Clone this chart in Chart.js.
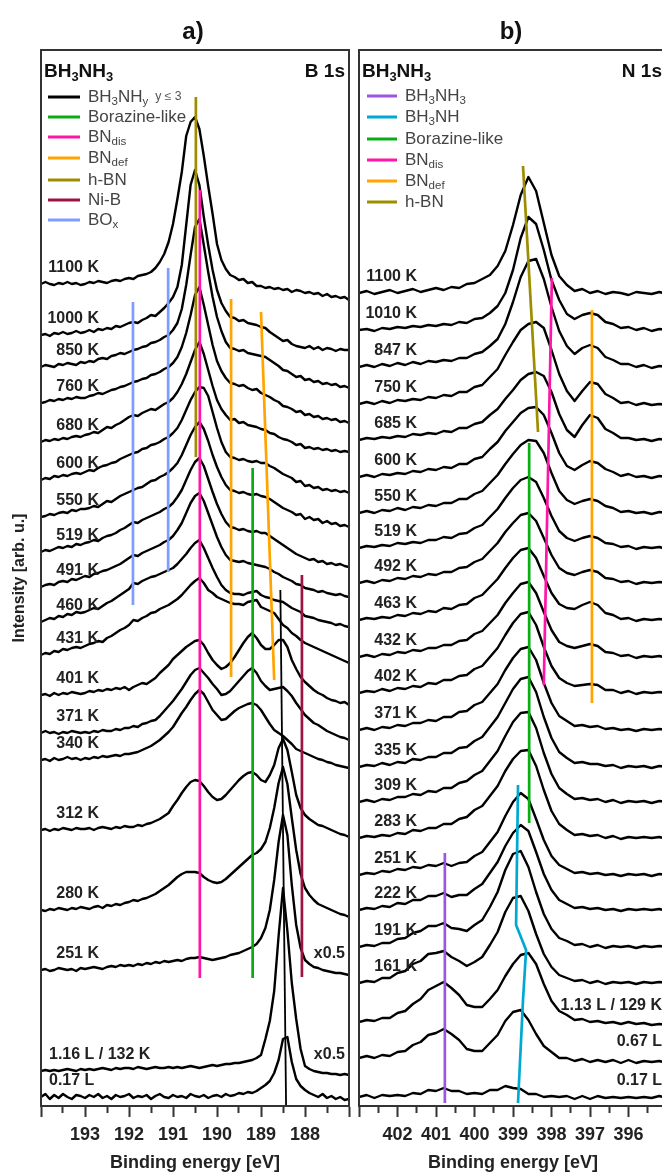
<!DOCTYPE html>
<html><head><meta charset="utf-8">
<script src="https://cdn.jsdelivr.net/npm/chart.js@4.4.1/dist/chart.umd.min.js"></script>
<style>
html,body{margin:0;padding:0;background:#fff;overflow:hidden;width:662px;height:1174px;}
#wrapA{position:absolute;left:0;top:0;width:353px;height:1174px;}
#wrapB{position:absolute;left:353px;top:0;width:322px;height:1174px;}
</style></head><body>
<div id="wrapA"><canvas id="cA" width="353" height="1174"></canvas></div>
<div id="wrapB"><canvas id="cB" width="322" height="1174"></canvas></div>
<script>
// ---------- B 1s (panel a) ----------
const energyB1s = [194.0,193.9,193.8,193.7,193.6,193.5,193.4,193.3,193.2,193.1,
  193.0,192.9,192.8,192.7,192.6,192.5,192.4,192.3,192.2,192.1,
  192.0,191.9,191.8,191.7,191.6,191.5,191.4,191.3,191.2,191.1,
  191.0,190.9,190.8,190.7,190.6,190.5,190.4,190.3,190.2,190.1,
  190.0,189.9,189.8,189.7,189.6,189.5,189.4,189.3,189.2,189.1,
  189.0,188.9,188.8,188.7,188.6,188.5,188.4,188.3,188.2,188.1,
  188.0,187.9,187.8,187.7,187.6,187.5,187.4,187.3,187.2,187.1,187.0];
const labelsB1s = ['1100 K','1000 K','850 K','760 K','680 K','600 K','550 K','519 K','491 K','460 K','431 K','401 K','371 K','340 K','312 K','280 K','251 K','1.16 L / 132 K','0.17 L'];
const offsetsB1s = [822,771,739,703,664,626,589,554,519,484,451,411,373,346,276,196,136,35,9];
const b1s_1100K = [0,2,0,-1,1,0,2,0,1,-1, 0,2,1,3,2,1,3,4,3,5, 6,5,8,9,10,12,16,22,30,42, 60,85,112,148,162,167,155,128,98,70, 40,24,15,9,7,4,5,1,2,-2, -2,-4,-3,-5,-4,-6,-5,-8,-6,-7, -9,-8,-10,-9,-12,-10,-13,-12,-14,-13,-16];
const b1s_1000K = [0,1,-1,2,1,3,1,2,4,2, 3,5,3,6,5,7,6,9,8,10, 12,13,12,15,17,20,19,23,27,32, 38,48,70,110,150,165,150,118,90,65, 45,32,24,18,17,14,15,12,11,10, 8,7,3,0,-3,-6,-5,-9,-11,-12, -13,-11,-14,-12,-15,-13,-14,-16,-14,-15,-15];
const b1s_850K  = [0,2,1,0,3,2,4,3,2,5, 4,6,5,8,9,8,11,12,14,13, 15,17,18,20,21,24,25,27,30,32, 37,44,58,82,112,140,148,122,95,70, 50,36,25,19,18,16,17,14,13,12, 11,10,7,4,1,-3,-4,-7,-10,-9, -13,-12,-15,-14,-17,-16,-18,-17,-20,-19,-21];
const b1s_760K  = [0,1,3,2,4,3,5,4,6,5, 5,7,8,10,9,11,13,14,16,17, 19,21,22,24,25,28,29,31,34,36, 40,46,56,70,88,108,116,98,78,58, 42,32,25,20,19,17,18,15,13,14, 10,8,6,3,1,-3,-4,-6,-9,-8, -12,-11,-14,-13,-16,-15,-17,-16,-19,-18,-20];
const b1s_680K  = [0,2,1,3,2,4,3,5,6,5, 7,8,10,9,12,15,14,17,19,22, 25,27,26,29,31,33,32,35,38,40, 44,50,58,68,80,92,100,88,72,56, 42,33,27,22,23,19,20,17,16,15, 13,12,9,8,5,3,2,0,-3,-2, -6,-5,-7,-6,-8,-7,-9,-8,-10,-9,-10];
const b1s_600K  = [0,2,1,4,3,5,4,6,7,6, 8,10,9,12,14,15,17,18,21,23, 25,27,28,31,32,35,36,38,41,43, 47,52,60,70,80,88,93,92,84,68, 52,38,28,23,22,20,21,19,18,19, 17,17,14,12,9,6,4,2,-2,-1, -6,-5,-8,-7,-10,-9,-11,-10,-12,-11,-13];
const b1s_550K  = [0,1,3,2,4,5,4,7,6,8, 8,9,11,10,13,16,15,18,21,23, 25,27,29,30,33,36,37,40,42,45, 49,54,62,72,82,90,95,88,76,62, 50,40,32,27,26,24,25,23,22,23, 21,20,18,15,12,9,7,5,2,3, -2,0,-3,-2,-6,-4,-7,-6,-9,-8,-10];
const b1s_519K  = [0,2,1,3,5,4,6,5,8,7, 9,10,12,11,14,16,17,19,22,24, 27,30,29,32,34,36,38,40,43,45, 49,55,62,72,82,90,94,86,73,60, 48,38,30,25,24,22,23,21,20,21, 19,19,16,13,10,7,4,1,-2,-4, -6,-8,-7,-10,-9,-12,-11,-13,-12,-14,-15];
const b1s_491K  = [0,2,3,2,5,6,5,8,7,9, 11,10,13,14,16,17,19,21,23,26, 29,32,31,34,36,38,40,42,45,47, 51,57,64,74,84,91,94,86,74,62, 50,40,32,27,26,25,26,24,23,22, 21,20,18,15,13,10,8,6,3,2, -1,-2,-3,-5,-4,-6,-7,-8,-7,-9,-10];
const b1s_460K  = [0,2,4,3,6,5,8,7,10,9, 10,12,14,13,16,19,21,24,27,30, 33,39,38,41,43,45,46,48,50,52, 54,58,63,68,74,79,82,74,64,54, 45,37,32,29,28,28,27,29,30,31, 27,25,24,22,21,20,17,14,12,10, 6,5,4,2,1,0,-1,-3,-2,-4,-5];
const b1s_431K  = [0,2,1,4,3,6,5,7,8,7, 9,11,12,14,13,17,19,22,25,27, 30,35,34,37,39,42,43,46,48,50, 53,56,60,65,70,74,77,72,65,62, 58,56,54,52,51,51,50,53,54,55, 48,46,44,42,36,30,27,22,19,15, 12,10,8,6,4,2,0,-2,-4,-6,-8];
const b1s_401K  = [0,1,-1,2,0,2,1,3,2,1, 2,4,3,5,4,6,5,7,6,8, 5,8,10,12,11,14,17,22,26,30, 36,40,44,48,51,54,55,50,42,35, 30,26,28,32,38,45,52,58,62,57, 50,46,46,50,55,55,48,35,26,18, 13,9,5,2,0,-3,-5,-6,-8,-7,-10];
const b1s_371K  = [0,2,0,1,-1,1,0,2,1,0, 1,0,2,1,3,2,2,4,3,5, 5,7,6,9,10,12,13,17,22,27, 32,38,44,51,58,63,65,60,55,49, 44,38,39,42,47,52,57,62,65,60, 52,47,43,44,45,46,42,37,30,24, 18,14,10,8,5,2,0,-2,-4,-5,-7];
const b1s_340K  = [0,1,-1,2,0,1,3,1,2,0, 2,1,3,2,4,3,4,5,4,6, 6,7,8,10,12,14,17,20,24,28, 33,40,47,53,60,66,70,66,58,50, 45,40,41,45,49,52,54,56,57,55, 50,43,36,30,27,24,20,16,11,9, 7,5,3,1,0,-2,-3,-5,-6,-7,-8];
const b1s_312K  = [0,1,-1,1,0,2,1,0,2,1, 1,2,0,2,3,2,1,3,2,4, 3,3,5,4,6,7,9,11,14,17, 24,30,37,43,48,50,49,44,38,33, 30,31,35,40,45,50,54,57,58,55, 50,48,55,65,82,91,80,58,35,22, 15,11,8,5,4,2,0,-2,-4,-5,-7];
const b1s_280K  = [0,-1,1,0,2,1,0,2,1,3, 2,1,3,4,2,5,4,6,5,7, 8,10,9,11,12,14,16,19,22,25, 29,33,36,38,38,38,37,33,30,28, 27,28,31,35,39,43,47,51,55,57, 61,68,82,102,127,143,126,92,60,36, 22,15,10,6,4,2,0,-2,-4,-5,-7];
const b1s_251K  = [0,1,-1,0,2,1,0,1,-1,2, 1,2,3,2,1,3,4,3,5,4, 5,4,6,5,7,6,8,7,9,8, 9,10,9,11,12,12,13,12,11,10, 11,12,13,15,16,17,19,21,23,26, 32,42,60,90,128,155,135,85,45,22, 10,6,3,2,0,-1,-2,-3,-3,-4,-5];
const b1s_116L  = [0,1,0,1,0,1,2,1,0,2, 1,2,1,2,3,2,1,3,2,3, 3,2,4,3,2,3,4,3,3,4, 3,4,3,4,5,4,3,4,5,6, 5,6,7,7,8,8,9,10,11,13, 16,32,50,80,135,183,140,88,52,22, 5,2,0,-1,-2,-2,-3,-3,-4,-3,-4];
const b1s_017L  = [0,3,-2,2,-1,3,0,-2,2,1, -1,2,0,3,-1,1,-2,2,0,1, 3,-1,1,0,2,-2,1,3,0,-1, 2,0,1,-1,3,1,0,2,-1,1, 2,0,3,1,2,4,3,5,4,6, 9,12,16,24,37,58,60,35,18,11, 7,4,2,0,3,-1,1,-2,0,-3,-2];
const spectraB1s = [b1s_1100K,b1s_1000K,b1s_850K,b1s_760K,b1s_680K,b1s_600K,b1s_550K,b1s_519K,b1s_491K,b1s_460K,b1s_431K,b1s_401K,b1s_371K,b1s_340K,b1s_312K,b1s_280K,b1s_251K,b1s_116L,b1s_017L];
const scaledB1s = ['251 K','1.16 L / 132 K'];
const ticksB1s = [193,192,191,190,189,188];

// component guides: [energy, intensity] pairs
const guideHBN_B   = [[190.48,1009],[190.48,649]];
const guideDis_B   = [[190.39,916],[190.39,128]];
const guideDef1_B  = [[189.68,807],[189.68,429]];
const guideDef2_B  = [[189.0,794],[188.7,426]];
const guideBor_B   = [[189.19,638],[189.19,128]];
const guideNiB_B   = [[188.07,531],[188.07,129]];
const guideBOx1_B  = [[191.91,804],[191.91,501]];
const guideBOx2_B  = [[191.11,838],[191.11,534]];
const guideBHN_B   = [[188.56,516],[188.43,0]];

// ---------- N 1s (panel b) ----------
const energyN1s = [403.0,402.8,402.6,402.4,402.2,402.0,401.8,401.6,401.4,401.2,401.0,400.8,400.6,400.4,400.2,400.0,399.8,399.6,399.4,399.2,399.0,398.8,398.6,398.4,398.2,398.0,397.8,397.6,397.4,397.2,397.0,396.8,396.6,396.4,396.2,396.0,395.8,395.6,395.4,395.2,395.0];
const labelsN1s = ['1100 K','1010 K','847 K','750 K','685 K','600 K','550 K','519 K','492 K','463 K','432 K','402 K','371 K','335 K','309 K','283 K','251 K','222 K','191 K','161 K','1.13 L / 129 K','0.67 L','0.17 L'];
const offsetsN1s = [813,776,739,702,666,629,593,558,523,486,449,413,376,339,304,268,231,196,159,123,84,48,9];
const n1s_1100K = [0,2,-1,1,3,0,2,4,1,3,5,3,6,5,9,10,14,18,27,42,68,98,116,102,70,38,17,8,2,4,0,2,-1,1,0,-2,1,0,-1,1,-1];
const n1s_1010K = [0,1,-1,2,1,3,2,4,3,5,4,6,5,8,7,11,12,17,24,37,60,92,113,106,80,50,30,16,11,15,17,15,8,6,2,3,0,2,-1,1,0];
const n1s_847K  = [0,2,0,3,1,4,2,5,3,6,5,7,6,9,9,13,15,21,28,43,65,90,106,108,88,60,36,21,13,19,22,19,10,7,3,3,0,2,-1,1,0];
const n1s_750K  = [0,2,0,3,1,4,3,5,4,7,6,9,8,12,12,17,19,27,35,49,62,74,80,82,76,54,30,13,3,13,22,20,10,6,1,2,-1,1,-1,0,-1];
const n1s_685K  = [0,2,1,3,2,4,3,6,5,7,6,9,8,12,12,16,18,25,31,41,50,60,66,68,64,48,26,10,3,15,25,22,11,7,2,2,0,1,-1,1,0];
const n1s_600K  = [0,2,0,3,2,4,3,6,5,8,7,10,9,13,13,18,20,28,35,46,55,64,69,70,62,44,24,11,7,12,16,14,8,5,1,3,0,1,-1,1,0];
const n1s_550K  = [0,2,0,3,2,5,3,6,5,8,7,10,10,14,14,19,22,30,38,49,59,68,73,72,60,40,22,13,9,12,14,12,7,5,1,2,0,1,-1,1,0];
const n1s_519K  = [0,2,1,3,2,5,4,6,5,8,8,11,10,14,15,20,23,31,39,50,60,68,71,66,50,32,17,10,7,10,12,10,5,4,1,2,-1,1,0,1,-1];
const n1s_492K  = [0,2,0,3,2,5,4,7,6,9,8,11,11,15,16,21,24,32,40,51,60,68,70,62,45,28,15,10,8,11,13,11,5,4,1,2,-1,1,0,1,0];
const n1s_463K  = [0,2,1,3,2,5,4,7,6,9,8,12,11,15,16,22,25,33,41,52,62,70,72,62,44,27,16,12,11,15,18,15,7,5,1,2,-1,1,0,1,0];
const n1s_432K  = [0,2,0,3,2,5,4,7,6,9,9,12,12,16,17,23,26,34,42,54,64,73,75,64,45,27,15,11,9,11,13,11,5,4,1,2,-1,1,0,1,-1];
const n1s_402K  = [0,2,1,4,2,5,4,7,6,10,9,13,13,17,18,24,27,36,45,58,70,79,81,68,46,27,15,10,7,8,9,8,3,3,0,2,-1,1,0,1,0];
const n1s_371K  = [0,2,0,3,2,5,4,7,7,10,9,13,13,18,19,25,28,37,46,60,72,81,83,70,47,27,14,9,4,5,3,4,1,2,0,1,-1,1,0,1,0];
const n1s_335K  = [0,2,1,4,2,5,4,8,7,10,10,14,14,19,20,26,30,40,50,64,78,88,90,75,50,29,15,9,4,5,3,3,1,2,-1,1,0,1,-1,1,0];
const n1s_309K  = [0,2,0,3,2,5,5,8,7,11,10,14,14,19,21,27,31,41,51,66,80,89,90,74,49,28,14,8,3,4,2,3,0,2,-1,1,0,1,-1,1,0];
const n1s_283K  = [0,2,1,3,2,5,4,8,7,10,10,14,14,19,21,28,32,42,52,67,79,87,88,72,48,27,14,8,3,4,2,3,0,2,-1,1,0,1,0,1,-1];
const n1s_251K  = [0,2,1,4,3,6,5,8,7,10,9,12,9,12,13,19,23,33,43,59,73,82,76,56,35,19,10,6,2,3,1,2,0,1,-1,1,0,1,-1,1,0];
const n1s_222K  = [0,2,1,4,3,7,6,10,10,14,14,17,13,15,15,21,26,37,48,64,77,85,79,58,36,20,10,6,2,3,1,2,0,1,-1,1,0,1,0,1,-1];
const n1s_191K  = [0,2,1,4,4,8,9,14,16,21,21,24,19,18,16,22,27,40,55,77,93,96,80,55,33,18,9,6,2,3,0,2,-1,1,0,1,-1,1,0,1,0];
const n1s_161K  = [0,2,1,5,5,10,12,19,22,29,30,32,26,22,17,21,26,38,51,71,85,87,72,49,29,16,8,5,2,3,0,2,-1,1,0,1,-1,1,0,1,0];
const n1s_113L  = [0,2,1,4,4,9,11,18,23,32,36,40,34,27,17,15,15,23,32,46,58,67,69,58,38,21,11,7,2,3,0,1,-1,0,-2,0,-2,-1,-3,-2,-3];
const n1s_067L  = [0,2,0,3,2,6,7,13,16,23,25,29,24,18,9,7,7,15,23,37,46,48,38,24,12,6,0,0,-3,-1,-4,-2,-4,-2,-5,-2,-5,-3,-4,-3,-5];
const n1s_017L  = [0,2,-1,2,1,2,1,4,3,7,6,9,6,6,3,4,3,7,7,11,9,8,3,3,0,1,0,1,-2,1,-2,1,-1,0,-1,0,-1,0,-1,1,-1];
const spectraN1s = [n1s_1100K,n1s_1010K,n1s_847K,n1s_750K,n1s_685K,n1s_600K,n1s_550K,n1s_519K,n1s_492K,n1s_463K,n1s_432K,n1s_402K,n1s_371K,n1s_335K,n1s_309K,n1s_283K,n1s_251K,n1s_222K,n1s_191K,n1s_161K,n1s_113L,n1s_067L,n1s_017L];
const ticksN1s = [402,401,400,399,398,397,396];

const guideHBN_N  = [[398.74,940],[398.35,674]];
const guideDis_N  = [[397.99,828],[398.2,421]];
const guideDef_N  = [[396.95,796],[396.95,403]];
const guideBor_N  = [[398.58,663],[398.58,283]];
const guideBHN_N  = [[398.87,321],[398.92,181],[398.66,156],[398.74,106],[398.87,3]];
const guideBH3_N  = [[400.77,253],[400.77,3]];

// ---------- colours ----------
const COL = {
  black:'#000000', borazine:'#0aad14', dis:'#ff16a9', def:'#ffa400',
  hbn:'#9d8d00', nib:'#9b1444', box:'#7f9dff', bh3:'#9c55e3', bhn:'#00a9d2'
};
const FONT = "'Liberation Sans', Arial, Helvetica, sans-serif";

function richWidth(ctx, parts, size, weight) {
  let w = 0;
  for (const [t, kind] of parts) {
    const s = kind === 'sub' ? size * 0.68 : kind === 'small' ? size * 0.72 : size;
    ctx.font = `${weight} ${s}px ${FONT}`;
    w += ctx.measureText(t).width;
  }
  return w;
}
function drawRich(ctx, x, y, parts, size, weight, color, align) {
  let cx = align === 'right' ? x - richWidth(ctx, parts, size, weight) : x;
  ctx.textBaseline = 'middle';
  ctx.textAlign = 'left';
  for (const [t, kind] of parts) {
    const s = kind === 'sub' ? size * 0.68 : kind === 'small' ? size * 0.72 : size;
    ctx.font = `${weight} ${s}px ${FONT}`;
    ctx.fillStyle = kind === 'small' ? '#555' : color;
    const dy = kind === 'sub' ? size * 0.3 : 0;
    ctx.fillText(t, cx, y + dy);
    cx += ctx.measureText(t).width;
  }
}

function guideSet(points, color, width) {
  return {
    data: points.map(p => ({x: p[0], y: p[1]})),
    borderColor: color, borderWidth: width || 2.7, pointRadius: 0,
    tension: 0, order: 0, clip: false
  };
}

function spectrumSets(energy, spectra, offsets) {
  return spectra.map((vals, i) => ({
    data: vals.map((v, k) => ({x: energy[k], y: offsets[i] + v})),
    borderColor: '#000', borderWidth: 2.4, pointRadius: 0, tension: 0,
    borderJoinStyle: 'round', order: 1
  }));
}

function xAxis(min, max, tickLabels) {
  return {
    type: 'linear', min, max, reverse: true,
    afterFit(s) { s.height = 68; },
    afterBuildTicks(s) {
      const t = [];
      for (let v = s.min; v <= s.max + 1e-9; v += 0.5) t.push({value: Math.round(v * 2) / 2});
      s.ticks = t;
    },
    ticks: {
      autoSkip: false, maxRotation: 0, padding: 7, color: '#222',
      font: {family: FONT, size: 18, weight: 'bold'},
      callback: v => tickLabels.includes(v) ? String(v) : ''
    },
    grid: {
      drawOnChartArea: false, drawTicks: true, tickLength: 11, tickWidth: 2, tickColor: '#333',
      tickBorderDash: c => (c.tick && Number.isInteger(c.tick.value)) ? [] : [6, 40]
    },
    border: {display: true, color: '#333', width: 2},
    title: {display: true, text: 'Binding energy [eV]', color: '#222',
      font: {family: FONT, size: 18, weight: 'bold'}, padding: {top: 0, bottom: 0}}
  };
}

function panelPlugin(cfg) {
  return {
    id: 'panel' + cfg.tag,
    afterDatasetsDraw(chart) {
      const {ctx, chartArea: a, scales} = chart;
      ctx.save();
      ctx.strokeStyle = '#333'; ctx.lineWidth = 2;
      ctx.strokeRect(a.left, a.top, a.right - a.left, a.bottom - a.top);
      ctx.fillStyle = '#111';
      ctx.font = `bold 24px ${FONT}`; ctx.textAlign = 'center'; ctx.textBaseline = 'middle';
      ctx.fillText(cfg.tag + ')', (a.left + a.right) / 2 - 2, 32);
      drawRich(ctx, a.left + 3, a.top + 22, [['BH',''],['3','sub'],['NH',''],['3','sub']], 19, 'bold', '#111', 'left');
      drawRich(ctx, cfg.coreX(a), a.top + 22, [[cfg.core,'']], 19, 'bold', '#111', 'right');
      cfg.legend.forEach((it, i) => {
        const y = cfg.legendY[i];
        ctx.strokeStyle = it.color; ctx.lineWidth = 3;
        ctx.beginPath(); ctx.moveTo(a.left + cfg.legX0, y); ctx.lineTo(a.left + cfg.legX1, y); ctx.stroke();
        drawRich(ctx, a.left + cfg.legX1 + 8, y, it.parts, 17, 'normal', '#444', 'left');
      });
      ctx.fillStyle = '#222';
      cfg.labels.forEach((lab, i) => {
        const y = scales.y.getPixelForValue(cfg.offsets[i]) - 16;
        const isDose = lab.includes('L');
        ctx.font = `bold 16px ${FONT}`; ctx.textBaseline = 'middle';
        if (isDose) {
          ctx.textAlign = cfg.doseAlign;
          ctx.fillText(lab, cfg.doseAlign === 'left' ? a.left + 8 : a.right - 5, y);
        } else {
          ctx.textAlign = 'right';
          ctx.fillText(lab, a.left + cfg.labelRight, y);
        }
        if (cfg.scaled && cfg.scaled.includes(lab)) {
          ctx.textAlign = 'right';
          ctx.fillText('x0.5', a.right - 4, y);
        }
      });
      if (cfg.yTitle) {
        ctx.save();
        ctx.translate(20, 578); ctx.rotate(-Math.PI / 2);
        ctx.font = `bold 16px ${FONT}`; ctx.textAlign = 'center'; ctx.textBaseline = 'middle';
        ctx.fillStyle = '#222';
        ctx.fillText('Intensity [arb. u.]', 0, 0);
        ctx.restore();
      }
      ctx.restore();
    }
  };
}

function makeChart(id, xmin, xmax, tickLabels, datasets, padding, plugin) {
  return new Chart(document.getElementById(id), {
    type: 'line',
    data: {datasets},
    options: {
      responsive: false, animation: false, devicePixelRatio: 1,
      parsing: false, normalized: true,
      layout: {padding},
      plugins: {legend: {display: false}, tooltip: {enabled: false}},
      scales: {
        x: xAxis(xmin, xmax, tickLabels),
        y: {type: 'linear', min: 0, max: 1056, display: false}
      }
    },
    plugins: [plugin]
  });
}

const setsA = [
  guideSet(guideHBN_B, COL.hbn), guideSet(guideDis_B, COL.dis), guideSet(guideDef1_B, COL.def),
  guideSet(guideDef2_B, COL.def), guideSet(guideBor_B, COL.borazine), guideSet(guideNiB_B, COL.nib),
  guideSet(guideBOx1_B, COL.box), guideSet(guideBOx2_B, COL.box), guideSet(guideBHN_B, COL.black, 1.8),
  ...spectrumSets(energyB1s, spectraB1s, offsetsB1s)
];
makeChart('cA', 187, 194, ticksB1s, setsA, {left: 41, right: 4, top: 50, bottom: 0}, panelPlugin({
  tag: 'a', core: 'B 1s', coreX: a => a.right - 4,
  labels: labelsB1s, offsets: offsetsB1s, scaled: scaledB1s, doseAlign: 'left', labelRight: 58,
  legX0: 7, legX1: 39, legendY: [97, 117, 137, 158, 180, 200, 220], yTitle: true,
  legend: [
    {color: COL.black, parts: [['BH',''],['3','sub'],['NH',''],['y','sub'],['  y \u2264 3','small']]},
    {color: COL.borazine, parts: [['Borazine-like','']]},
    {color: COL.dis, parts: [['BN',''],['dis','sub']]},
    {color: COL.def, parts: [['BN',''],['def','sub']]},
    {color: COL.hbn, parts: [['h-BN','']]},
    {color: COL.nib, parts: [['Ni-B','']]},
    {color: COL.box, parts: [['BO',''],['x','sub']]}
  ]
}));

const setsB = [
  guideSet(guideHBN_N, COL.hbn), guideSet(guideDis_N, COL.dis), guideSet(guideDef_N, COL.def),
  guideSet(guideBor_N, COL.borazine), guideSet(guideBHN_N, COL.bhn), guideSet(guideBH3_N, COL.bh3),
  ...spectrumSets(energyN1s, spectraN1s, offsetsN1s)
];
makeChart('cB', 395, 403, ticksN1s, setsB, {left: 6, right: 8, top: 50, bottom: 0}, panelPlugin({
  tag: 'b', core: 'N 1s', coreX: a => a.right - 5,
  labels: labelsN1s, offsets: offsetsN1s, scaled: null, doseAlign: 'right', labelRight: 58,
  legX0: 8, legX1: 38, legendY: [96, 117, 139, 160, 181, 202], yTitle: false,
  legend: [
    {color: COL.bh3, parts: [['BH',''],['3','sub'],['NH',''],['3','sub']]},
    {color: COL.bhn, parts: [['BH',''],['3','sub'],['NH','']]},
    {color: COL.borazine, parts: [['Borazine-like','']]},
    {color: COL.dis, parts: [['BN',''],['dis','sub']]},
    {color: COL.def, parts: [['BN',''],['def','sub']]},
    {color: COL.hbn, parts: [['h-BN','']]}
  ]
}));
</script></body></html>
